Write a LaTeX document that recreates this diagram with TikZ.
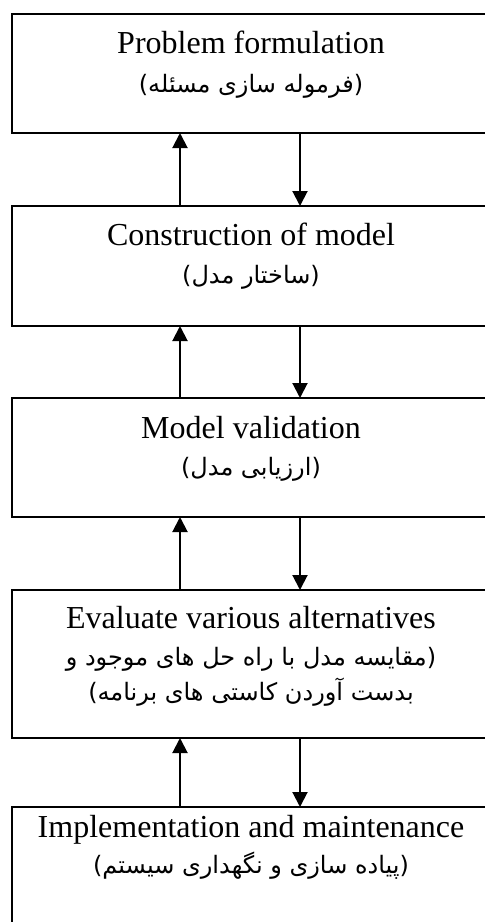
\documentclass[tikz,border=0pt]{standalone}
\usepackage{fontspec}
\setmainfont{Liberation Serif}
\newfontfamily\fafont[Script=Arabic]{DejaVu Sans}
\newfontfamily\brfont{DejaVu Sans}
\TeXXeTstate=1
\usetikzlibrary{arrows.meta,calc}

% brackets set left-to-right around a right-to-left phrase
\newcommand\lbr{{\brfont(}}
\newcommand\rbr{{\brfont)}}

\begin{document}
\begin{tikzpicture}[x=1pt,y=-1pt,
  stage/.style={draw, line width=2pt, minimum width=478pt, anchor=north west,
                inner sep=0pt, outer sep=0pt},
  en/.style={anchor=base, inner sep=0pt, font=\fontsize{32}{36}\selectfont},
  fa/.style={anchor=base, inner sep=0pt, font=\fafont\fontsize{24}{28}\selectfont},
  link/.style={line width=2pt, -{Triangle[width=15pt,length=15pt]}}]
\useasboundingbox (0,0) rectangle (485,922);
\clip (0,0) rectangle (485,922);

% the five stages (right and bottom sides run past the page)
\node[stage, minimum height=119.5pt] (b1) at (12,13.5) {};
\node[stage, minimum height=120pt]   (b2) at (12,206) {};
\node[stage, minimum height=119pt]   (b3) at (12,398) {};
\node[stage, minimum height=148pt]   (b4) at (12,590) {};
\node[stage, minimum height=140pt]   (b5) at (12,807) {};

% labels
\node[en] (e1) at ($(b1.north)+(0,39.5)$) {Problem formulation};
\node[fa] (p1) at ($(b1.north)+(0,78.5)$) {\lbr\beginR فرموله سازی مسئله\endR\rbr};

\node[en] (e2) at ($(b2.north)+(0,39)$) {Construction of model};
\node[fa] (p2) at ($(b2.north)+(0,77)$) {\lbr\beginR ساختار مدل\endR\rbr};

\node[en] (e3) at ($(b3.north)+(0,40)$) {Model validation};
\node[fa] (p3) at ($(b3.north)+(0,77)$) {\lbr\beginR ارزیابی مدل\endR\rbr};

\node[en] (e4) at ($(b4.north)+(0,38)$) {Evaluate various alternatives};
\node[fa] (p4a) at ($(b4.north)+(0,75)$) {\beginR مقایسه مدل با راه حل های موجود و\endR\rbr};
\node[fa] (p4b) at ($(b4.north)+(0,110)$) {\lbr\beginR بدست آوردن کاستی های برنامه\endR};

\node[en] (e5) at ($(b5.north)+(0,30)$) {Implementation and maintenance};
\node[fa] (p5) at ($(b5.north)+(0,66)$) {\lbr\beginR پیاده سازی و نگهداری سیستم\endR\rbr};

% feedback (up) and forward (down) links
\coordinate (ux) at (180,0);
\coordinate (dx) at (300,0);
\foreach \a/\b in {b1/b2, b2/b3, b3/b4, b4/b5}{
  \draw[link] (\b.north -| ux) -- (\a.south -| ux);
  \draw[link] (\a.south -| dx) -- (\b.north -| dx);
}
\end{tikzpicture}
\end{document}
